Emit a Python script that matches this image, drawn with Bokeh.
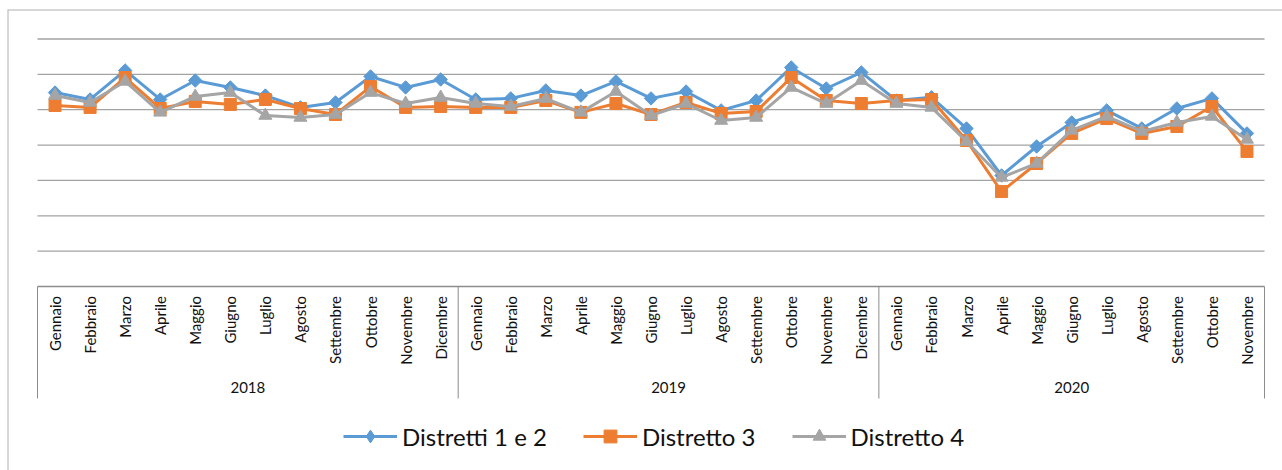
import math

from bokeh.core.properties import value
from bokeh.embed import file_html
from bokeh.models import ColumnDataSource, Legend, LegendItem, Range1d
from bokeh.plotting import figure
from bokeh.resources import INLINE

# ---------------------------------------------------------------- data
years = ["2018", "2019", "2020"]
months_per_year = [12, 12, 11]
month_names = ["Gennaio", "Febbraio", "Marzo", "Aprile", "Maggio", "Giugno",
               "Luglio", "Agosto", "Settembre", "Ottobre", "Novembre", "Dicembre"]

distretti_1_2 = [109.7, 105.8, 122.2, 105.8, 116.5, 112.6, 108.0, 101.3, 104.1, 118.8, 112.6, 117.1,
                 105.8, 106.4, 110.9, 108.0, 116.0, 106.4, 110.3, 99.6, 105.2, 123.9, 112.0, 121.1,
                 105.2, 107.0, 89.4, 62.8, 79.2, 92.8, 99.6, 89.4, 100.7, 106.4, 86.6]
distretto_3 = [102.4, 101.3, 118.2, 100.7, 104.7, 103.0, 105.8, 100.7, 97.3, 113.1, 101.3, 101.8,
               101.3, 101.3, 105.2, 98.5, 103.5, 97.3, 104.1, 97.9, 99.0, 118.2, 105.2, 103.5,
               105.2, 105.8, 82.6, 53.7, 69.6, 86.6, 95.0, 86.6, 90.5, 101.8, 76.4]
distretto_4 = [108.0, 104.1, 116.0, 98.5, 107.5, 109.7, 96.7, 95.6, 97.3, 109.7, 103.5, 106.9,
               103.5, 101.8, 106.3, 98.5, 110.3, 96.7, 103.5, 93.9, 95.6, 112.6, 103.5, 116.5,
               103.5, 101.3, 82.0, 61.7, 69.6, 88.3, 96.2, 87.7, 92.8, 96.2, 83.2]

series_names = ["Distretti 1 e 2", "Distretto 3", "Distretto 4"]
grid_values = [20, 40, 60, 80, 100, 120, 140]

# ---------------------------------------------------------------- geometry
W, H = 1282, 470
PLOT_LEFT, PLOT_RIGHT = 37, 1264
PLOT_TOP, PLOT_BOTTOM = 38.5, 286
Y_MAX = 140

n_cat = sum(months_per_year)
sx = (PLOT_RIGHT - PLOT_LEFT) / n_cat
sy = (PLOT_BOTTOM - PLOT_TOP) / Y_MAX


def dx(px):
    return (px - PLOT_LEFT) / sx


def dy(py):
    return (PLOT_BOTTOM - py) / sy


FONT = value("Lato")
GRID_COLOR = "#a3a3a3"
AXIS_COLOR = "#8c8c8c"
TEXT_COLOR = "#111111"

p = figure(width=W, height=H, output_backend="svg", toolbar_location=None,
           x_axis_location=None, y_axis_location=None,
           x_range=Range1d(dx(0), dx(W)), y_range=Range1d(dy(H), dy(0)),
           min_border=0, min_border_left=0, min_border_right=0,
           min_border_top=0, min_border_bottom=0)
p.outline_line_color = None
p.background_fill_color = "white"
p.border_fill_color = "white"
p.xgrid.visible = False
p.ygrid.visible = False

# chart area border (left and top edges)
p.segment(x0=[dx(7.5), dx(7)], y0=[dy(470), dy(9.5)],
          x1=[dx(7.5), dx(W)], y1=[dy(9.5), dy(9.5)],
          line_color="#b0b0b0", line_width=1)

# horizontal gridlines
p.segment(x0=[0] * len(grid_values), y0=grid_values,
          x1=[n_cat] * len(grid_values), y1=grid_values,
          line_color=GRID_COLOR, line_width=1.3)

# category axis: baseline and group separators
p.segment(x0=[0], y0=[0], x1=[n_cat], y1=[0], line_color=AXIS_COLOR, line_width=1.3)
bounds = [0]
for m in months_per_year:
    bounds.append(bounds[-1] + m)
p.segment(x0=bounds, y0=[0] * len(bounds), x1=bounds, y1=[dy(398)] * len(bounds),
          line_color=AXIS_COLOR, line_width=1)

# month labels (vertical) and year labels
cat_x = []
cat_labels = []
for y_i, m in enumerate(months_per_year):
    for k in range(m):
        cat_x.append(bounds[y_i] + k + 0.5)
        cat_labels.append(month_names[k])
p.text(x=cat_x, y=[dy(295.5)] * len(cat_x), text=cat_labels, angle=math.pi / 2,
       text_align="right", text_baseline="middle", text_font=FONT,
       text_font_size="15px", text_color=TEXT_COLOR)

year_x = [(bounds[i] + bounds[i + 1]) / 2 for i in range(len(years))]
p.text(x=year_x, y=[dy(387)] * len(years), text=years,
       text_align="center", text_baseline="middle", text_font=FONT,
       text_font_size="15px", text_color=TEXT_COLOR)

# ---------------------------------------------------------------- series
colors = ["#5b9bd5", "#ed7d31", "#a5a5a5"]
markers = ["square", "square", "triangle"]
legend_markers = ["diamond", "square", "triangle"]
angles = [math.pi / 4, 0, 0]
sizes = [9.5, 12, 13]
values = [distretti_1_2, distretto_3, distretto_4]

items = []
for name, vals, col, mk, lmk, ang, sz in zip(series_names, values, colors, markers,
                                             legend_markers, angles, sizes):
    src = ColumnDataSource(dict(x=cat_x, y=vals))
    ln = p.line("x", "y", source=src, line_color=col, line_width=3)
    p.scatter("x", "y", source=src, marker=mk, size=sz, angle=ang,
              fill_color=col, line_color=col)
    # hidden renderer that only supplies the legend key marker
    key = p.scatter("x", "y", source=src, marker=lmk, size=sz,
                    fill_color=col, line_color=col, visible=False)
    items.append(LegendItem(label=name, renderers=[ln, key]))

legend = Legend(items=items, orientation="horizontal", location=(343, 18),
                glyph_width=54, glyph_height=32, label_standoff=5, spacing=36,
                padding=0, margin=0, border_line_color=None, background_fill_alpha=0,
                label_text_font="Lato", label_text_font_size="24px",
                label_text_color=TEXT_COLOR, label_height=32, click_policy="none")
p.add_layout(legend)

open("out.html", "w").write(file_html(p, INLINE))
